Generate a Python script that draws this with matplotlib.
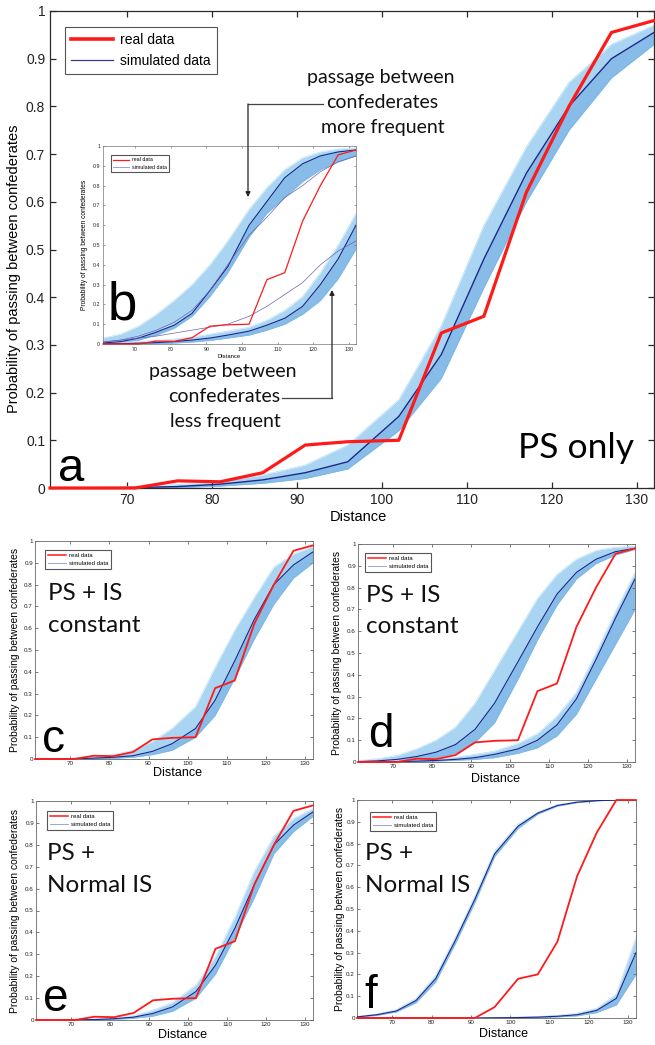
import matplotlib
matplotlib.use('Agg')
import matplotlib.pyplot as plt
from matplotlib.lines import Line2D
from matplotlib.patches import FancyArrowPatch
from matplotlib.ticker import FuncFormatter

W, H = 655, 1045

# distances where the curves are sampled
dist = [61, 66, 71, 76, 81, 86, 91, 96, 102, 107, 112, 117, 122, 127, 132]
x_ticks = [70, 80, 90, 100, 110, 120, 130]
y_ticks = [0, 0.1, 0.2, 0.3, 0.4, 0.5, 0.6, 0.7, 0.8, 0.9, 1]

# observed proportions
real = [0, 0, 0, 0.015, 0.013, 0.032, 0.09, 0.097, 0.1, 0.325, 0.36, 0.62, 0.8, 0.955, 0.98]
real_f = [0, 0, 0, 0, 0, 0, 0, 0.05, 0.18, 0.2, 0.35, 0.65, 0.85, 1.0, 1.0]

# simulated bands: lower edge, dark core, upper edge
a_lo = [0, 0, 0, 0.001, 0.004, 0.01, 0.02, 0.04, 0.12, 0.23, 0.42, 0.6, 0.75, 0.86, 0.93]
a_mid = [0, 0, 0.001, 0.003, 0.008, 0.017, 0.032, 0.055, 0.15, 0.28, 0.48, 0.66, 0.8, 0.9, 0.955]
a_hi = [0, 0.001, 0.003, 0.007, 0.014, 0.027, 0.048, 0.09, 0.185, 0.34, 0.55, 0.715, 0.85, 0.93, 0.97]

b1_lo = [0.003, 0.008, 0.02, 0.045, 0.08, 0.14, 0.24, 0.36, 0.54, 0.66, 0.74, 0.82, 0.88, 0.92, 0.95]
b1_mid = [0.005, 0.012, 0.03, 0.06, 0.095, 0.155, 0.27, 0.39, 0.6, 0.72, 0.84, 0.91, 0.95, 0.97, 0.98]
b1_hi = [0.03, 0.05, 0.09, 0.15, 0.22, 0.3, 0.4, 0.52, 0.68, 0.79, 0.88, 0.94, 0.97, 0.985, 0.99]
b1_out = [0.01, 0.02, 0.04, 0.07, 0.11, 0.17, 0.27, 0.4, 0.55, 0.64, 0.74, 0.8, 0.87, 0.92, 0.95]
b2_lo = [0, 0, 0.001, 0.002, 0.005, 0.01, 0.018, 0.03, 0.045, 0.07, 0.1, 0.15, 0.22, 0.33, 0.48]
b2_mid = [0.001, 0.002, 0.004, 0.007, 0.012, 0.02, 0.03, 0.045, 0.065, 0.095, 0.13, 0.19, 0.3, 0.43, 0.6]
b2_hi = [0.005, 0.008, 0.012, 0.018, 0.025, 0.035, 0.05, 0.065, 0.085, 0.12, 0.17, 0.24, 0.36, 0.5, 0.66]
b2_out = [0.01, 0.02, 0.03, 0.04, 0.055, 0.07, 0.085, 0.1, 0.14, 0.19, 0.25, 0.31, 0.4, 0.47, 0.52]

c_lo = [0, 0, 0, 0.001, 0.003, 0.008, 0.02, 0.04, 0.1, 0.2, 0.37, 0.55, 0.71, 0.83, 0.9]
c_mid = [0, 0, 0.001, 0.004, 0.008, 0.015, 0.035, 0.07, 0.14, 0.27, 0.45, 0.64, 0.8, 0.89, 0.95]
c_hi = [0, 0.002, 0.005, 0.01, 0.02, 0.04, 0.08, 0.14, 0.24, 0.42, 0.59, 0.74, 0.88, 0.94, 0.975]

d1_lo = [0, 0.002, 0.005, 0.01, 0.02, 0.04, 0.09, 0.18, 0.38, 0.56, 0.72, 0.84, 0.91, 0.95, 0.975]
d1_mid = [0.002, 0.005, 0.012, 0.025, 0.045, 0.08, 0.15, 0.27, 0.46, 0.62, 0.77, 0.87, 0.93, 0.965, 0.98]
d1_hi = [0.006, 0.015, 0.03, 0.06, 0.1, 0.16, 0.27, 0.42, 0.6, 0.75, 0.86, 0.93, 0.97, 0.985, 0.99]
d2_lo = [0, 0, 0, 0.002, 0.004, 0.008, 0.012, 0.02, 0.04, 0.065, 0.12, 0.22, 0.38, 0.54, 0.7]
d2_mid = [0, 0.001, 0.002, 0.004, 0.007, 0.012, 0.02, 0.035, 0.06, 0.1, 0.17, 0.29, 0.47, 0.66, 0.84]
d2_hi = [0.002, 0.004, 0.007, 0.01, 0.015, 0.022, 0.035, 0.05, 0.085, 0.13, 0.21, 0.32, 0.5, 0.69, 0.87]

e_lo = [0, 0, 0, 0.001, 0.003, 0.008, 0.018, 0.04, 0.1, 0.21, 0.38, 0.56, 0.76, 0.86, 0.93]
e_mid = [0, 0, 0.001, 0.002, 0.006, 0.013, 0.03, 0.06, 0.13, 0.25, 0.42, 0.62, 0.8, 0.89, 0.95]
e_hi = [0, 0.001, 0.002, 0.005, 0.01, 0.02, 0.045, 0.08, 0.16, 0.29, 0.47, 0.68, 0.84, 0.92, 0.965]

f1_lo = [0.004, 0.012, 0.028, 0.07, 0.165, 0.34, 0.53, 0.74, 0.87, 0.935, 0.972, 0.988, 0.996, 1.0, 1.0]
f1_mid = [0.005, 0.015, 0.032, 0.08, 0.18, 0.355, 0.545, 0.752, 0.88, 0.94, 0.975, 0.99, 0.997, 1.0, 1.0]
f1_hi = [0.007, 0.018, 0.038, 0.09, 0.195, 0.37, 0.56, 0.765, 0.89, 0.945, 0.978, 0.992, 0.998, 1.0, 1.0]
f2_lo = [0, 0, 0, 0, 0, 0, 0, 0, 0.001, 0.002, 0.005, 0.01, 0.025, 0.06, 0.2]
f2_mid = [0, 0, 0, 0, 0, 0, 0, 0.001, 0.002, 0.004, 0.008, 0.015, 0.035, 0.09, 0.3]
f2_hi = [0, 0, 0, 0, 0, 0, 0.001, 0.002, 0.004, 0.007, 0.012, 0.022, 0.045, 0.11, 0.37]

RED = '#ff1a1a'
NAVY = '#1c2788'
PURPLE = '#6a64b4'
LIGHT = '#a9d5f2'
MID = '#5f9fdc'
MATLAB_FONT = ['Liberation Sans', 'DejaVu Sans']
TEXT_FONT = ['Lato', 'DejaVu Sans']
YLABEL = 'Probability of passing between confederates'


def fx(px):
    return px / W


def fy(py):
    return 1 - py / H


def rect(l, r, t, b):
    return [l / W, 1 - b / H, (r - l) / W, (b - t) / H]


def style_axes(ax, tick_fs, tick_len, spine_color, spine_lw, pad=3.5):
    ax.set_xlim(61, 132)
    ax.set_ylim(0, 1)
    ax.set_xticks(x_ticks)
    ax.set_yticks(y_ticks)
    ax.yaxis.set_major_formatter(FuncFormatter(lambda v, p: f'{v:g}'))
    ax.tick_params(direction='in', top=True, right=True, labelsize=tick_fs, pad=pad,
                   length=tick_len, width=spine_lw, color=spine_color, labelcolor='#222222')
    for lab in ax.get_xticklabels() + ax.get_yticklabels():
        lab.set_family(MATLAB_FONT)
    for s in ax.spines.values():
        s.set_color(spine_color)
        s.set_linewidth(spine_lw)


def draw_band(ax, lo, mid, hi, lw=0.8):
    ax.fill_between(dist, lo, hi, color=LIGHT, lw=0, zorder=1)
    ax.fill_between(dist, lo, mid, color=MID, alpha=0.45, lw=0, zorder=1)
    ax.plot(dist, hi, color='#bfe2f8', lw=lw * 0.7, zorder=2)
    ax.plot(dist, lo, color='#7db8e6', lw=lw * 0.7, zorder=2)
    ax.plot(dist, mid, color=NAVY, lw=lw, zorder=3)


def add_legend(ax, anchor_px, fs, red_lw, sim_color, sim_lw):
    handles = [Line2D([], [], color=RED, lw=red_lw),
               Line2D([], [], color=sim_color, lw=sim_lw)]
    leg = ax.legend(handles, ['real data', 'simulated data'], loc='upper left',
                    bbox_to_anchor=(fx(anchor_px[0]), fy(anchor_px[1])),
                    bbox_transform=fig.transFigure, borderaxespad=0,
                    handlelength=3.0, handletextpad=0.5,
                    borderpad=0.45, labelspacing=0.5, fancybox=False,
                    framealpha=1, edgecolor='#555555', prop={'family': MATLAB_FONT, 'size': fs})
    leg.get_frame().set_linewidth(0.8)
    return leg


def big_lines(x_px, baselines, lines, fs):
    for yb, s in zip(baselines, lines):
        fig.text(fx(x_px), fy(yb), s, fontsize=fs, family=TEXT_FONT,
                 va='baseline', ha='left', color='#111111')


def centred(x_px, y_px, s, fs=14):
    fig.text(fx(x_px), fy(y_px), s, fontsize=fs, family=TEXT_FONT,
             va='baseline', ha='center', color='#111111')


fig = plt.figure(figsize=(W / 100, H / 100), dpi=100)

# ---------------- panel a ----------------
ax_a = fig.add_axes(rect(50, 654, 11, 488))
style_axes(ax_a, 10, 4.5, '#2a2a2a', 0.9)
draw_band(ax_a, a_lo, a_mid, a_hi, lw=1.0)
ax_a.plot(dist, real, color=RED, lw=2.3, zorder=5, clip_on=False)
ax_a.set_xlabel('Distance', fontsize=10.5, family=MATLAB_FONT)
ax_a.xaxis.set_label_coords((358 - 50) / 604, (488 - 510) / 477)
ax_a.set_ylabel(YLABEL, fontsize=10.5, family=MATLAB_FONT, va='center')
ax_a.yaxis.set_label_coords((14 - 50) / 604, 0.46)
add_legend(ax_a, (65, 27), 10, 2.6, '#3a3a8c', 0.9)

fig.text(fx(58), fy(481), 'a', fontsize=34, family=MATLAB_FONT, va='baseline')
fig.text(fx(518), fy(458), 'PS only', fontsize=25.5, family=TEXT_FONT, va='baseline')

# ---------------- inset b ----------------
ax_b = fig.add_axes(rect(103, 356, 146, 344))
style_axes(ax_b, 3.8, 1.5, '#777777', 0.5, pad=2)
draw_band(ax_b, b1_lo, b1_mid, b1_hi, lw=0.8)
draw_band(ax_b, b2_lo, b2_mid, b2_hi, lw=0.8)
ax_b.plot(dist, b1_out, color=PURPLE, lw=0.5, zorder=3)
ax_b.plot(dist, b2_out, color=PURPLE, lw=0.5, zorder=3)
ax_b.plot(dist, real, color=RED, lw=0.9, zorder=5, clip_on=False)
ax_b.set_xlabel('Distance', fontsize=4.2, family=MATLAB_FONT)
ax_b.xaxis.set_label_coords(0.5, -0.05)
ax_b.set_ylabel(YLABEL, fontsize=4.8, family=MATLAB_FONT, va='center')
ax_b.yaxis.set_label_coords((85 - 103) / 253, 0.5)
add_legend(ax_b, (111, 155), 3.8, 0.9, '#9090c8', 0.6)
fig.text(fx(108), fy(320), 'b', fontsize=38, family=MATLAB_FONT, va='baseline')

# annotations
big_lines(307, [83], ['passage between'], 14)
centred(382.5, 108, 'confederates')
centred(383, 133, 'more frequent')
centred(222.5, 377, 'passage between')
centred(224.5, 402, 'confederates')
centred(225, 427, 'less frequent')

fig.add_artist(Line2D([fx(323), fx(248)], [fy(104), fy(104)], color='#444444', lw=0.9,
                      transform=fig.transFigure, zorder=10))
fig.add_artist(FancyArrowPatch((fx(248), fy(104)), (fx(248), fy(197)), transform=fig.transFigure,
                               arrowstyle='-|>', mutation_scale=7, color='#222222', lw=0.9,
                               shrinkA=0, shrinkB=0, zorder=10))
fig.add_artist(Line2D([fx(282), fx(332)], [fy(398), fy(398)], color='#444444', lw=0.9,
                      transform=fig.transFigure, zorder=10))
fig.add_artist(FancyArrowPatch((fx(332), fy(398)), (fx(332), fy(290)), transform=fig.transFigure,
                               arrowstyle='-|>', mutation_scale=7, color='#222222', lw=0.9,
                               shrinkA=0, shrinkB=0, zorder=10))

# ---------------- small panels ----------------
panels = [
    dict(r=(35, 313, 541, 759), bands=[(c_lo, c_mid, c_hi)], real=real, leg=(45, 550),
         xl=(177, 773), yl=15, letter=('c', 42, 752), txt=(48, [600, 632], ['PS + IS', 'constant'])),
    dict(r=(358, 635, 544, 762), bands=[(d1_lo, d1_mid, d1_hi), (d2_lo, d2_mid, d2_hi)], real=real,
         leg=(365, 553), xl=(495, 779), yl=337, letter=('d', 368, 747),
         txt=(366, [602, 633], ['PS + IS', 'constant'])),
    dict(r=(36, 313, 801, 1020), bands=[(e_lo, e_mid, e_hi)], real=real, leg=(47, 811),
         xl=(182, 1035), yl=15, letter=('e', 43, 1011), txt=(47, [860, 892], ['PS +', 'Normal IS'])),
    dict(r=(357, 636, 800, 1018), bands=[(f1_lo, f1_mid, f1_hi), (f2_lo, f2_mid, f2_hi)], real=real_f,
         leg=(370, 812), xl=(504, 1034), yl=340, letter=('f', 364, 1008),
         txt=(365, [860, 892], ['PS +', 'Normal IS'])),
]

for p in panels:
    l, r, t, b = p['r']
    ax = fig.add_axes(rect(l, r, t, b))
    style_axes(ax, 4.5, 2, '#666666', 0.6, pad=1.5)
    for lo, mid, hi in p['bands']:
        draw_band(ax, lo, mid, hi, lw=0.8)
    ax.plot(dist, p['real'], color=RED, lw=1.3, zorder=5, clip_on=False)
    ax.set_xlabel('Distance', fontsize=9, family=MATLAB_FONT)
    ax.xaxis.set_label_coords((p['xl'][0] - l) / (r - l), (b - p['xl'][1]) / (b - t))
    ax.xaxis.label.set_va('center')
    ax.set_ylabel(YLABEL, fontsize=7.5, family=MATLAB_FONT)
    ax.yaxis.set_label_coords((p['yl'] - l) / (r - l), 0.5)
    ax.yaxis.label.set_va('center')
    add_legend(ax, p['leg'], 4.3, 1.1, '#8a96d8', 0.6)
    ch, lx, ly = p['letter']
    fig.text(fx(lx), fy(ly), ch, fontsize=33, family=MATLAB_FONT, va='baseline')
    tx, tys, tlines = p['txt']
    big_lines(tx, tys, tlines, 17.5)

fig.savefig('out.png', dpi=100, facecolor='white')
